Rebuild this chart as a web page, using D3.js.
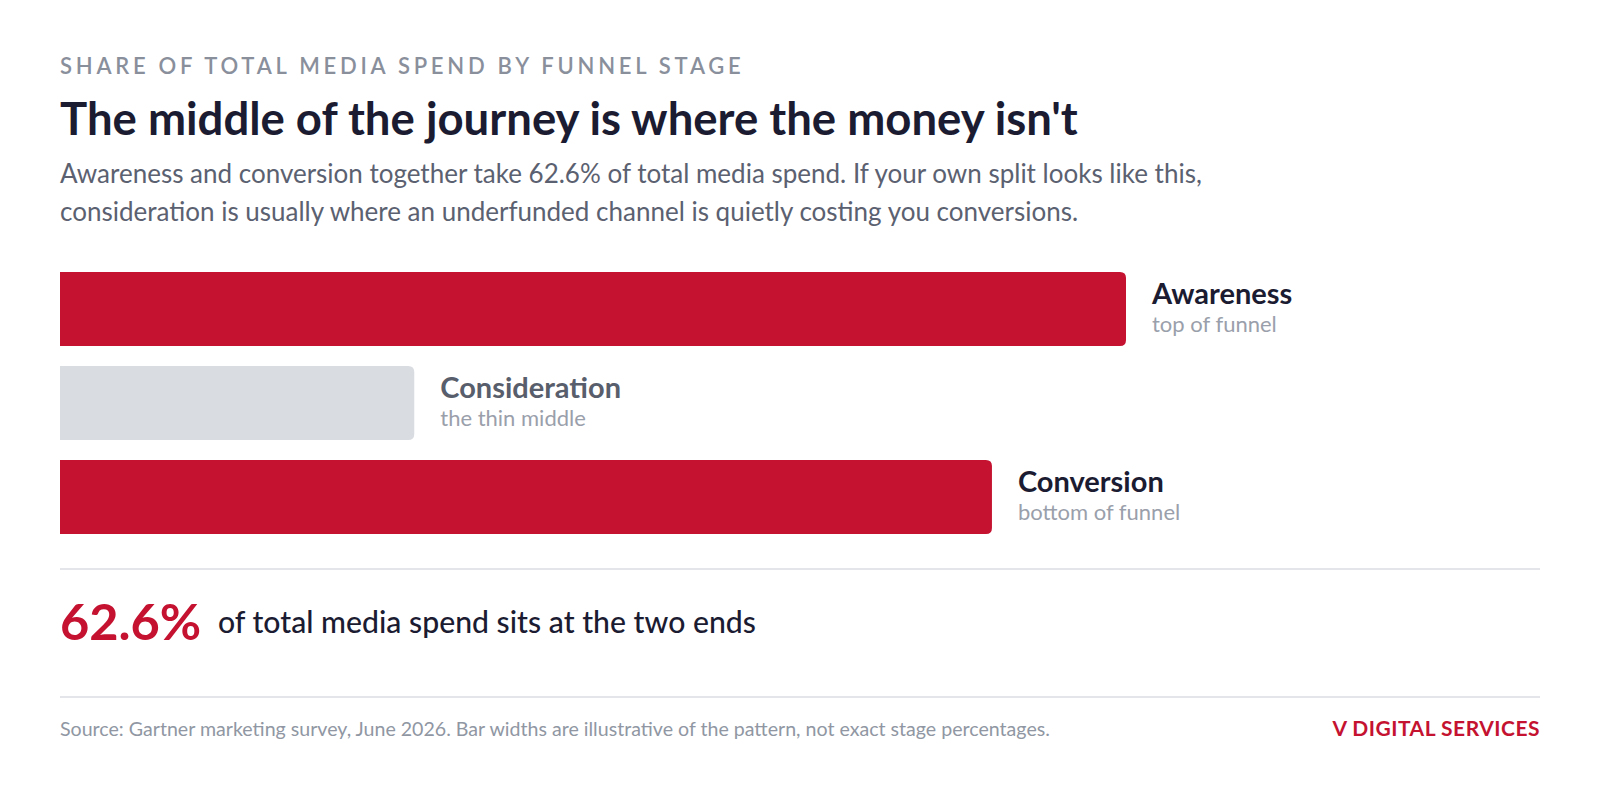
<!DOCTYPE html>
<html>
<head>
<meta charset="utf-8">
<script src="https://cdn.jsdelivr.net/npm/d3@7"></script>
<style>
  html, body { margin: 0; padding: 0; background: #ffffff; }
  svg { display: block; font-family: Lato, "Noto Sans", sans-serif; }
</style>
</head>
<body>
<script>
var w = 1600;
var h = 794;
var left = 60;
var right = 1540;

// stage shares, % of total media spend (bar widths are illustrative)
var stages = ["Awareness", "Consideration", "Conversion"];
var notes = ["top of funnel", "the thin middle", "bottom of funnel"];
var shares = [33.4, 11.1, 29.2];
var highlight = [true, false, true];

var headline = 62.6;

var red = "#c41230";

var svg = d3.select("body")
    .append("svg")
    .attr("width", w)
    .attr("height", h);

// header
svg.append("text")
    .attr("x", left)
    .attr("y", 74)
    .style("font-size", "22px")
    .style("font-weight", 600)
    .style("letter-spacing", "3.75px")
    .style("fill", "#8a8f9c")
    .text("SHARE OF TOTAL MEDIA SPEND BY FUNNEL STAGE");

svg.append("text")
    .attr("x", left)
    .attr("y", 135)
    .style("font-size", "45.5px")
    .style("font-weight", 700)
    .style("fill", "#1b1b32")
    .text("The middle of the journey is where the money isn't");

var sub = [
    "Awareness and conversion together take " + headline + "% of total media spend. If your own split looks like this,",
    "consideration is usually where an underfunded channel is quietly costing you conversions."
];
svg.selectAll("text.sub")
    .data(sub)
    .enter()
    .append("text")
    .attr("class", "sub")
    .attr("x", left)
    .attr("y", function(d, i){
        return 183 + i * 38;
    })
    .style("font-size", "26px")
    .style("fill", "#5b6170")
    .text(function(d){ return d; });

// bars
var rows = stages.map(function(s, i){
    return {stage: s, note: notes[i], share: shares[i], hi: highlight[i]};
});

var xScale = d3.scaleLinear()
    .domain([0, d3.max(shares)])
    .range([left, 1126]);

var yScale = d3.scaleBand()
    .domain(stages)
    .range([272, 534])
    .paddingInner(20 / 94)
    .paddingOuter(0);

function barPath(d){
    var x0 = xScale(0), x1 = xScale(d.share);
    var y0 = yScale(d.stage), y1 = y0 + yScale.bandwidth();
    var r = 6;
    return "M" + x0 + "," + y0 +
        "H" + (x1 - r) +
        "Q" + x1 + "," + y0 + " " + x1 + "," + (y0 + r) +
        "V" + (y1 - r) +
        "Q" + x1 + "," + y1 + " " + (x1 - r) + "," + y1 +
        "H" + x0 + "Z";
}

svg.selectAll("path.bar")
    .data(rows)
    .enter()
    .append("path")
    .attr("class", "bar")
    .attr("d", barPath)
    .attr("fill", function(d){
        return d.hi ? red : "#d9dce1";
    });

svg.selectAll("text.stage")
    .data(rows)
    .enter()
    .append("text")
    .attr("class", "stage")
    .attr("x", function(d){ return xScale(d.share) + 26; })
    .attr("y", function(d){ return yScale(d.stage) + 32; })
    .style("font-size", "29px")
    .style("font-weight", 700)
    .style("fill", function(d){
        return d.hi ? "#1b1b32" : "#585e6b";
    })
    .text(function(d){ return d.stage; });

svg.selectAll("text.note")
    .data(rows)
    .enter()
    .append("text")
    .attr("class", "note")
    .attr("x", function(d){ return xScale(d.share) + 26; })
    .attr("y", function(d){ return yScale(d.stage) + 60; })
    .style("font-size", "22px")
    .style("fill", "#9aa0ab")
    .text(function(d){ return d.note; });

// dividers
svg.selectAll("line.rule")
    .data([569, 697])
    .enter()
    .append("line")
    .attr("class", "rule")
    .attr("x1", left)
    .attr("x2", right)
    .attr("y1", function(d){ return d; })
    .attr("y2", function(d){ return d; })
    .attr("stroke", "#e3e5ea")
    .attr("stroke-width", 2);

// big number
svg.append("text")
    .attr("x", left)
    .attr("y", 640)
    .style("font-size", "50.5px")
    .style("font-weight", 700)
    .style("fill", red)
    .text(headline + "%");

svg.append("text")
    .attr("x", 218)
    .attr("y", 633)
    .style("font-size", "30.2px")
    .style("font-weight", 500)
    .style("fill", "#1b1b32")
    .text("of total media spend sits at the two ends");

// footer
svg.append("text")
    .attr("x", left)
    .attr("y", 736)
    .style("font-size", "19.6px")
    .style("fill", "#9097a3")
    .text("Source: Gartner marketing survey, June 2026. Bar widths are illustrative of the pattern, not exact stage percentages.");

svg.append("text")
    .attr("x", right)
    .attr("y", 736)
    .attr("text-anchor", "end")
    .style("font-size", "21px")
    .style("font-weight", 700)
    .style("letter-spacing", "0.5px")
    .style("fill", red)
    .text("V DIGITAL SERVICES");
</script>
</body>
</html>
